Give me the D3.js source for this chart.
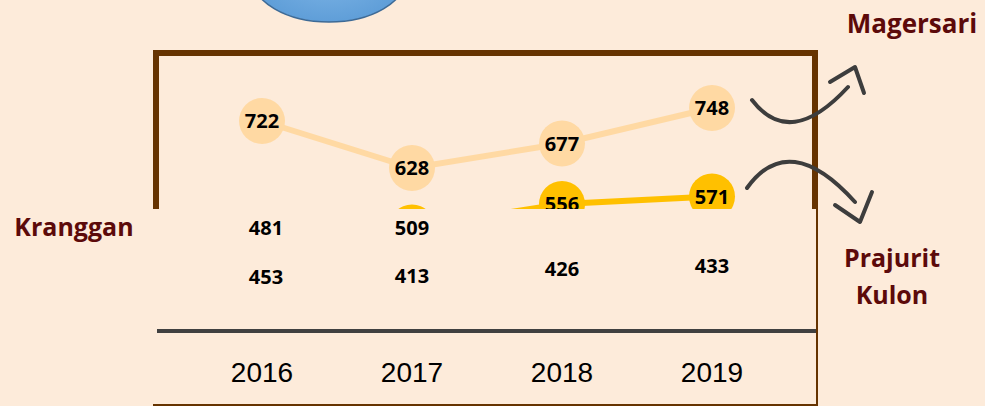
<!DOCTYPE html>
<html>
<head>
<meta charset="utf-8">
<script src="https://cdn.jsdelivr.net/npm/d3@7/dist/d3.min.js"></script>
<style>
  html, body { margin: 0; padding: 0; background: #fdebda; }
  svg { display: block; }
</style>
</head>
<body>
<div id="chart"></div>
<script>
// data
var years = ["2016", "2017", "2018", "2019"];
var magersari = [722, 628, 677, 748];
var prajuritKulon = [481, 509, 556, 571];
var kranggan = [453, 413, 426, 433];
var seriesNames = ["Magersari", "Prajurit Kulon", "Kranggan"];

var W = 985, H = 406;
var bg = "#fdebda";
var brown = "#663300";
var nameColor = "#5c0a0a";
var cutY = 209; // top of the panel that hides the lower part of the chart

var series = [
  { name: seriesNames[0], values: magersari, color: "#ffd9a3" },
  { name: seriesNames[1], values: prajuritKulon, color: "#ffc000" },
  { name: seriesNames[2], values: kranggan, color: "#c9a27a" }
];

var svg = d3.select("#chart").append("svg")
  .attr("width", W)
  .attr("height", H)
  .attr("viewBox", "0 0 " + W + " " + H);

svg.append("rect").attr("width", W).attr("height", H).attr("fill", bg);

var defs = svg.append("defs");
defs.append("clipPath").attr("id", "upper")
  .append("rect").attr("x", 0).attr("y", 0).attr("width", W).attr("height", cutY);
var grad = defs.append("radialGradient").attr("id", "blue");
grad.append("stop").attr("offset", "0%").attr("stop-color", "#7db4e6");
grad.append("stop").attr("offset", "100%").attr("stop-color", "#5f9ed8");

// blue shape at the top edge
svg.append("ellipse")
  .attr("cx", 329).attr("cy", -23)
  .attr("rx", 77).attr("ry", 45)
  .attr("fill", "url(#blue)")
  .attr("stroke", "#3d6a96")
  .attr("stroke-width", 1.5);

var x = d3.scaleBand().domain(years).range([187, 787]);
var y = d3.scaleLinear().domain([400, 800]).range([282, 82]);
var cx = function (d, i) { return x(years[i]) + x.bandwidth() / 2; };

var line = d3.line()
  .x(function (d, i) { return cx(d, i); })
  .y(function (d) { return y(d); });

// upper part: frame, lines, markers, labels
var upper = svg.append("g").attr("clip-path", "url(#upper)");

upper.append("rect")
  .attr("x", 156).attr("y", 53)
  .attr("width", 659).attr("height", 300)
  .attr("fill", "none")
  .attr("stroke", brown)
  .attr("stroke-width", 6);

var sg = upper.selectAll("g.series")
  .data(series.slice().reverse())
  .enter().append("g").attr("class", "series");

sg.append("path")
  .attr("d", function (s) { return line(s.values); })
  .attr("fill", "none")
  .attr("stroke", function (s) { return s.color; })
  .attr("stroke-width", 6);

sg.selectAll("circle")
  .data(function (s) { return s.values.map(function (v) { return { v: v, c: s.color }; }); })
  .enter().append("circle")
  .attr("cx", function (d, i) { return cx(d, i); })
  .attr("cy", function (d) { return y(d.v); })
  .attr("r", 23)
  .attr("fill", function (d) { return d.c; });

// labels of points above the cut stay in the upper part
sg.selectAll("text")
  .data(function (s) {
    return s.values.map(function (v, i) { return { v: v, i: i }; })
      .filter(function (d) { return y(d.v) <= cutY; });
  })
  .enter().append("text")
  .attr("x", function (d) { return cx(d, d.i); })
  .attr("y", function (d) { return y(d.v); })
  .attr("dy", "0.36em")
  .attr("text-anchor", "middle")
  .attr("font-family", "Open Sans")
  .attr("font-weight", "bold")
  .attr("font-size", 20)
  .attr("fill", "#000")
  .text(function (d) { return d.v; });

// lower panel: only the labels of points that fall below the cut are seen
svg.append("line")
  .attr("x1", 817).attr("x2", 817).attr("y1", cutY).attr("y2", H)
  .attr("stroke", brown).attr("stroke-width", 2);
svg.append("line")
  .attr("x1", 153).attr("x2", 818).attr("y1", 405).attr("y2", 405)
  .attr("stroke", brown).attr("stroke-width", 2);

var lowerLabels = [];
series.forEach(function (s, si) {
  s.values.forEach(function (v, i) {
    if (y(v) > cutY) lowerLabels.push({ v: v, i: i, si: si });
  });
});
// the 2016 labels of the two lower series were pushed apart
function nudge(d) {
  if (d.i !== 0) return 0;
  return d.si === 1 ? -14 : 21;
}

svg.append("g").selectAll("text")
  .data(lowerLabels)
  .enter().append("text")
  .attr("x", function (d) { return cx(d, d.i) + (d.i === 0 ? 4 : 0); })
  .attr("y", function (d) { return y(d.v) + nudge(d); })
  .attr("dy", "0.36em")
  .attr("text-anchor", "middle")
  .attr("font-family", "Open Sans")
  .attr("font-weight", "bold")
  .attr("font-size", 20)
  .attr("fill", "#000")
  .text(function (d) { return d.v; });

// category axis
svg.append("line")
  .attr("x1", 157).attr("x2", 816).attr("y1", 331).attr("y2", 331)
  .attr("stroke", "#404040").attr("stroke-width", 4);

var axis = d3.axisBottom(x).tickSize(0).tickPadding(0);
var ax = svg.append("g").attr("transform", "translate(0,362)").call(axis);
ax.select(".domain").remove();
ax.selectAll("text")
  .attr("font-family", "Liberation Sans")
  .attr("font-size", 28)
  .attr("fill", "#000");

// series names
function name(txt, xx, yy, anchor, size) {
  svg.append("text")
    .attr("x", xx).attr("y", yy)
    .attr("text-anchor", anchor)
    .attr("font-family", "Open Sans")
    .attr("font-weight", "bold")
    .attr("font-size", size)
    .attr("fill", nameColor)
    .text(txt);
}
name(seriesNames[0], 912, 33, "middle", 26);
name("Prajurit", 892, 267, "middle", 25);
name("Kulon", 892, 304, "middle", 25);
name(seriesNames[2], 74, 236, "middle", 25);

// hand drawn arrows
var arrows = [
  "M752,100 Q790,150 848,87", "M830,82 L855,67 L864,93",
  "M747,188 Q789,129 855,202", "M835,205 L860,222 L872,192"
];
svg.append("g").selectAll("path")
  .data(arrows)
  .enter().append("path")
  .attr("d", function (d) { return d; })
  .attr("fill", "none")
  .attr("stroke", "#3d3d3d")
  .attr("stroke-width", 4)
  .attr("stroke-linecap", "round")
  .attr("stroke-linejoin", "round");
</script>
</body>
</html>
